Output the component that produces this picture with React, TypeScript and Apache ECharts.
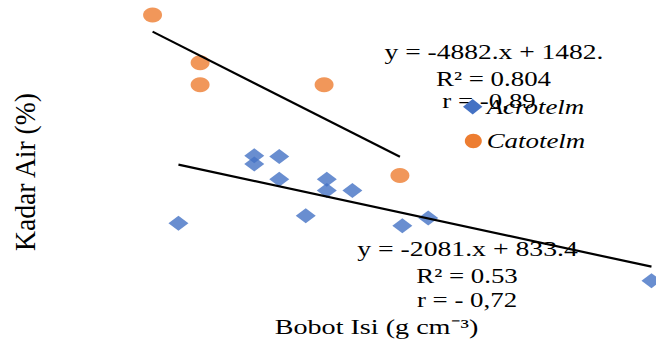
import React, { useEffect, useRef } from "react";
import * as echarts from "echarts";

// Acrotelm (blue diamonds): bulk density (g cm-3) vs water content (%)
const acroX = [0.1195, 0.1195, 0.1278, 0.1278, 0.1436, 0.1436, 0.1521, 0.1366, 0.0943, 0.1687, 0.1773, 0.2515];
const acroY = [666, 639, 663, 590, 590, 554, 554, 473, 449, 441, 466, 265];

// Catotelm (orange circles)
const catoX = [0.0857, 0.1015, 0.1015, 0.1427, 0.1679];
const catoY = [1117, 964, 893, 893, 602];

// Linear trendlines as printed on the chart: y = slope * x + intercept
const acroFit = [-2081, 833.4];
const catoFit = [-4882, 1482];

const seriesNames = ["Acrotelm", "Catotelm"];
const catoLabels = ["y = -4882.x + 1482.", "R² = 0.804", "r = -0,89"];
const acroLabels = ["y = -2081.x + 833.4", "R² = 0.53", "r = - 0,72"];
const xTitle = "Bobot Isi (g cm⁻³)";
const yTitle = "Kadar Air (%)";

const BLUE = "#4472C4";
const ORANGE = "#ED7D31";
const FONT = '"Liberation Serif", "Times New Roman", serif';

function fitLine(xs: number[], fit: number[]) {
  const lo = Math.min(...xs);
  const hi = Math.max(...xs);
  return [
    [lo, fit[0] * lo + fit[1]],
    [hi, fit[0] * hi + fit[1]],
  ];
}

function txt(text: string, x: number, y: number, opts: any = {}) {
  const align = opts.align || "center";
  return {
    type: "text",
    x,
    y,
    rotation: opts.rotation || 0,
    scaleX: opts.scaleX ?? 1.28,
    scaleY: opts.scaleY ?? 1,
    z: opts.z ?? 10,
    style: {
      text,
      x: 0,
      y: 0,
      fill: "#000",
      fontFamily: FONT,
      fontSize: opts.fontSize || 21,
      fontStyle: opts.fontStyle || "normal",
      textAlign: align,
      textVerticalAlign: "middle",
      align,
      verticalAlign: "middle",
    },
  };
}

export default function App() {
  const ref = useRef<HTMLDivElement>(null);
  useEffect(() => {
    if (!ref.current) return;
    const chart = echarts.init(ref.current, undefined, { renderer: "svg" });
    const lineH = [0, 27, 51.5];
    chart.setOption({
      animation: false,
      backgroundColor: "#fff",
      grid: { left: 0, right: 0, top: 0, bottom: 0, containLabel: false },
      xAxis: { type: "value", min: 0.035, max: 0.253, show: false },
      yAxis: { type: "value", min: 75, max: 1165, show: false },
      series: [
        {
          name: seriesNames[0],
          type: "scatter",
          symbol: "diamond",
          symbolSize: [20, 15],
          itemStyle: { color: BLUE },
          data: acroX.map((x, i) => [x, acroY[i]]),
          z: 2,
        },
        {
          name: seriesNames[1],
          type: "scatter",
          symbol: "circle",
          symbolSize: [19, 15],
          itemStyle: { color: ORANGE },
          data: catoX.map((x, i) => [x, catoY[i]]),
          z: 2,
        },
        {
          type: "line",
          data: fitLine(acroX, acroFit),
          showSymbol: false,
          symbol: "none",
          lineStyle: { color: "#000", width: 2.2 },
          z: 3,
          silent: true,
        },
        {
          type: "line",
          data: fitLine(catoX, catoFit),
          showSymbol: false,
          symbol: "none",
          lineStyle: { color: "#000", width: 2.2 },
          z: 3,
          silent: true,
        },
      ],
      graphic: [
        txt(catoLabels[0], 494, 51.7, { scaleX: 1.31 }),
        txt(catoLabels[1], 493.5, 78.8),
        txt(catoLabels[2], 489, 101.5),
        txt(acroLabels[0], 467.5, 248.8, { scaleX: 1.32 }),
        txt(acroLabels[1], 467, 248.8 + lineH[1]),
        txt(acroLabels[2], 467, 248.8 + lineH[2]),
        txt(xTitle, 376.5, 326, { fontSize: 22 }),
        txt(yTitle, 25, 172, { rotation: Math.PI / 2, fontSize: 24, scaleX: 1.15, scaleY: 1.26 }),
        {
          type: "polygon",
          z: 20,
          shape: { points: [[463, 106.7], [472.7, 99], [482.4, 106.7], [472.7, 114.4]] },
          style: { fill: BLUE },
        },
        {
          type: "ellipse",
          z: 20,
          shape: { cx: 473.3, cy: 141, rx: 8.5, ry: 7.2 },
          style: { fill: ORANGE },
        },
        txt(seriesNames[0], 486.7, 107, { align: "left", fontStyle: "italic", z: 20 }),
        txt(seriesNames[1], 486.7, 141, { align: "left", fontStyle: "italic", z: 20 }),
      ],
    });
    return () => chart.dispose();
  }, []);
  return (
    <div
      ref={ref}
      style={{ position: "fixed", left: 0, top: 0, width: 656, height: 340, background: "#fff" }}
    />
  );
}
